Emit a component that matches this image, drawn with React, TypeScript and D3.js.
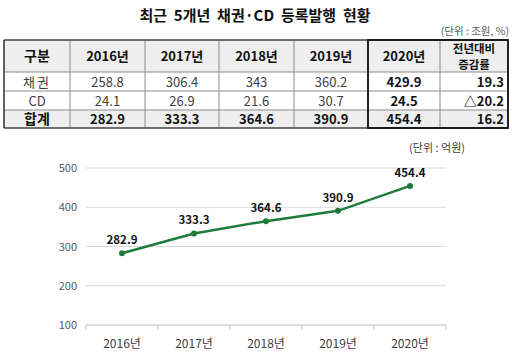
import React from "react";
import * as d3 from "d3";

const years = ["2016년", "2017년", "2018년", "2019년", "2020년"];
const bonds = [258.8, 306.4, 343, 360.2, 429.9];
const cds = [24.1, 26.9, 21.6, 30.7, 24.5];
const totals = [282.9, 333.3, 364.6, 390.9, 454.4];
const yoyChange = ["19.3", "△20.2", "16.2"];
const rowLabels = ["채권", "CD", "합계"];
const yTicks = [100, 200, 300, 400, 500];

const title = "최근  5개년  채권·CD  등록발행  현황";
const tableUnit = "(단위 : 조원, %)";
const chartUnit = "(단위 : 억원)";

const FONT = "'Noto Sans CJK KR', 'Malgun Gothic', sans-serif";
const NUMFONT = "'Noto Sans CJK KR', 'Malgun Gothic', sans-serif";

export default function App() {
  const W = 512, H = 355;
  // table layout
  const colEdges = [4, 70, 145, 219, 294, 368, 440, 508];
  const rowEdges = [40, 72, 91, 110, 128];
  const rows = [bonds, cds, totals];

  // chart scales
  const x = d3.scaleBand<string>().domain(years).range([86, 446]);
  const y = d3.scaleLinear().domain([100, 500]).range([325, 168]);
  const line = d3
    .line<number>()
    .x((_, i) => (x(years[i]) as number) + x.bandwidth() / 2)
    .y((d) => y(d));

  const gridColor = "#d9d9d9";
  const green = "#1e7b3c";

  return (
    <svg
      width={W}
      height={H}
      style={{ position: "absolute", left: 0, top: 0, background: "#fff" }}
      fontFamily={FONT}
    >
      <rect width={W} height={H} fill="#fff" />
      {/* Title */}
      <text x={255} y={21} textAnchor="middle" fontSize={15} fontWeight="bold" fill="#111" style={{ whiteSpace: "pre" }}>
        {title}
      </text>
      <text x={509} y={35} textAnchor="end" fontSize={10.5} fill="#595959">
        {tableUnit}
      </text>

      {/* Table fills */}
      <rect x={colEdges[0]} y={rowEdges[0]} width={colEdges[7] - colEdges[0]} height={rowEdges[1] - rowEdges[0]} fill="#eeeeee" />
      <rect x={colEdges[0]} y={rowEdges[3]} width={colEdges[7] - colEdges[0]} height={rowEdges[4] - rowEdges[3]} fill="#eeeeee" />

      {/* Grid lines */}
      {rowEdges.map((ry, i) => (
        <line key={"r" + i} x1={colEdges[0]} x2={colEdges[7]} y1={ry} y2={ry} stroke="#8c8c8c" strokeWidth={1} />
      ))}
      {colEdges.map((cx, i) => (
        <line key={"c" + i} x1={cx} x2={cx} y1={rowEdges[0]} y2={rowEdges[4]} stroke="#8c8c8c" strokeWidth={1} />
      ))}
      <line x1={colEdges[0]} x2={colEdges[7]} y1={rowEdges[0]} y2={rowEdges[0]} stroke="#222" strokeWidth={1.2} />
      <line x1={colEdges[0]} x2={colEdges[7]} y1={rowEdges[4]} y2={rowEdges[4]} stroke="#222" strokeWidth={1.2} />
      <line x1={colEdges[0]} x2={colEdges[0]} y1={rowEdges[0]} y2={rowEdges[4]} stroke="#222" strokeWidth={1.2} />
      {/* Thick box around 2020 + change columns */}
      <rect
        x={colEdges[5]}
        y={rowEdges[0]}
        width={colEdges[7] - colEdges[5]}
        height={rowEdges[4] - rowEdges[0]}
        fill="none"
        stroke="#111"
        strokeWidth={1.8}
      />

      {/* Header text */}
      <text x={(colEdges[0] + colEdges[1]) / 2} y={61} textAnchor="middle" fontSize={14} fontWeight="bold" fill="#111">
        구분
      </text>
      {years.map((yr, i) => (
        <text
          key={yr}
          x={(colEdges[i + 1] + colEdges[i + 2]) / 2}
          y={61}
          textAnchor="middle"
          fontSize={13}
          fontWeight="bold"
          fill="#111"
          fontFamily={NUMFONT}
        >
          {yr}
        </text>
      ))}
      <text x={(colEdges[6] + colEdges[7]) / 2} y={52.5} textAnchor="middle" fontSize={11.5} fontWeight="bold" fill="#111">
        전년대비
      </text>
      <text x={(colEdges[6] + colEdges[7]) / 2} y={68.5} textAnchor="middle" fontSize={11.5} fontWeight="bold" fill="#111">
        증감률
      </text>

      {/* Body rows */}
      {rows.map((vals, r) => {
        const cy = (rowEdges[r + 1] + rowEdges[r + 2]) / 2 + 5;
        const isTotal = r === 2;
        return (
          <g key={"row" + r}>
            <text
              x={(colEdges[0] + colEdges[1]) / 2}
              y={cy}
              textAnchor="middle"
              fontSize={isTotal ? 14 : 13}
              fontWeight={isTotal ? "bold" : "normal"}
              fill={isTotal ? "#111" : "#404040"}
              letterSpacing={r === 0 ? 2 : 0}
            >
              {rowLabels[r]}
            </text>
            {vals.map((v, i) => {
              const bold = isTotal || i === 4;
              return (
                <text
                  key={i}
                  x={(colEdges[i + 1] + colEdges[i + 2]) / 2}
                  y={cy}
                  textAnchor="middle"
                  fontSize={13}
                  fontWeight={bold ? "bold" : "normal"}
                  fill={bold ? "#111" : "#404040"}
                  fontFamily={NUMFONT}
                >
                  {String(v)}
                </text>
              );
            })}
            <text
              x={colEdges[7] - 4}
              y={cy}
              textAnchor="end"
              fontSize={13}
              fontWeight="bold"
              fill="#111"
              fontFamily={NUMFONT}
            >
              {yoyChange[r]}
            </text>
          </g>
        );
      })}

      {/* Chart */}
      <text x={465} y={152} textAnchor="end" fontSize={11} fill="#404040" style={{ whiteSpace: "pre" }}>
        {chartUnit}
      </text>
      {yTicks.map((t) => (
        <g key={t}>
          <line x1={86} x2={446} y1={y(t)} y2={y(t)} stroke={t === 100 ? "#bfbfbf" : gridColor} strokeWidth={1} />
          <text x={77} y={y(t) + 4} textAnchor="end" fontSize={11} fill="#595959" fontFamily={NUMFONT}>
            {t}
          </text>
        </g>
      ))}
      {[...years.map((yr) => x(yr) as number), 446].map((tx, i) => (
        <line key={"tk" + i} x1={tx} x2={tx} y1={y(100)} y2={y(100) + 5} stroke="#bfbfbf" strokeWidth={1} />
      ))}
      {years.map((yr) => (
        <text
          key={"xl" + yr}
          x={(x(yr) as number) + x.bandwidth() / 2}
          y={348}
          textAnchor="middle"
          fontSize={12}
          fill="#404040"
        >
          {yr}
        </text>
      ))}
      <path d={line(totals) || ""} fill="none" stroke={green} strokeWidth={2.5} />
      {totals.map((v, i) => {
        const px = (x(years[i]) as number) + x.bandwidth() / 2;
        return (
          <g key={"pt" + i}>
            <circle cx={px} cy={y(v)} r={3} fill={green} />
            <text x={px} y={y(v) - 9} textAnchor="middle" fontSize={11.5} fontWeight="bold" fill="#111" fontFamily={NUMFONT}>
              {v.toFixed(1)}
            </text>
          </g>
        );
      })}
    </svg>
  );
}
